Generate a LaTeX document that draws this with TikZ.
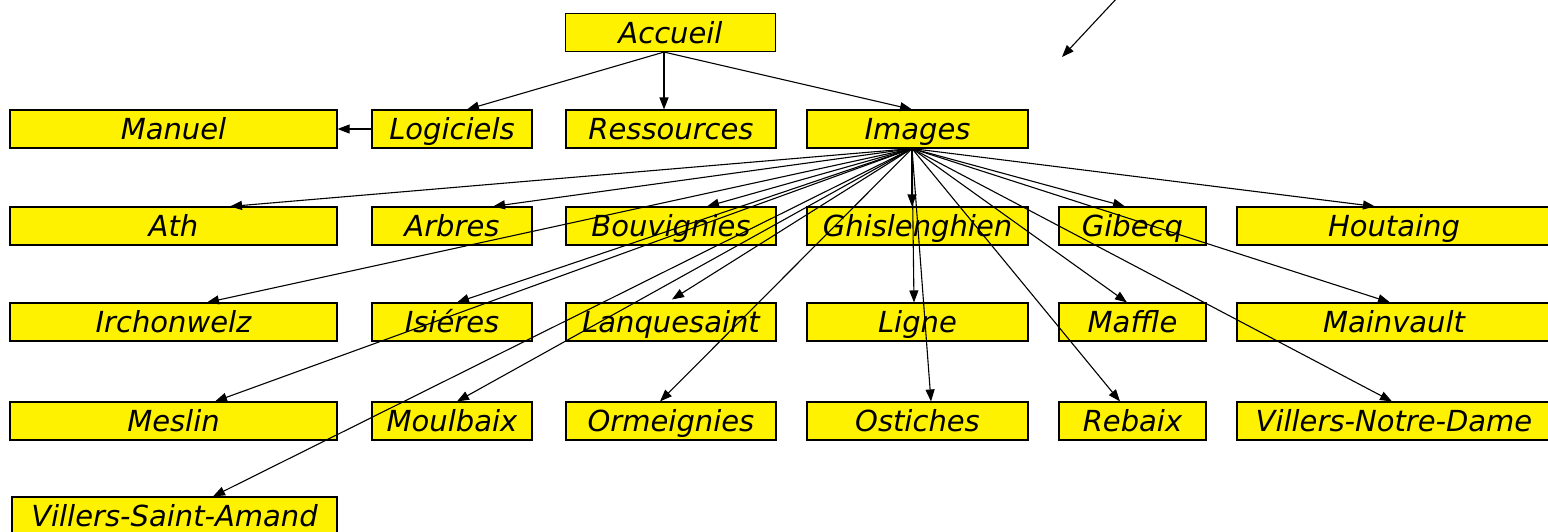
\documentclass[tikz,border=0pt]{standalone}
\usepackage{fontspec}
\setmainfont{DejaVu Sans}
\usepackage{tikz}
\usetikzlibrary{arrows.meta}

\begin{document}
\begin{tikzpicture}[x=1pt,y=-1pt,
  place/.style={rectangle,draw=black,line width=1.1pt,fill=yellow,inner sep=0pt,
    minimum height=38pt,text height=21pt,text depth=0pt,
    font=\fontsize{29}{30}\selectfont\itshape},
  colA/.style={place,minimum width=327pt},
  colB/.style={place,minimum width=160pt},
  colC/.style={place,minimum width=210pt},
  colD/.style={place,minimum width=221pt},
  colE/.style={place,minimum width=147pt},
  colF/.style={place,minimum width=314pt},
  link/.style={draw=black,line width=1.1pt,-{Triangle[length=12pt,width=9pt]}}]
\useasboundingbox (0,0) rectangle (1548,531);
\node at (670.5,32.5) [colC] (Accueil) {Accueil};
\node at (173.5,129) [colA] (Manuel) {Manuel};
\node at (452,129) [colB] (Logiciels) {Logiciels};
\node at (671,129) [colC] (Ressources) {Ressources};
\node at (917.5,129) [colD] (Images) {Images};
% Row 2
\node at (173.5,226) [colA] (Ath) {Ath};
\node at (452,226) [colB] (Arbres) {Arbres};
\node at (671,226) [colC] (Bouvignies) {Bouvignies};
\node at (917.5,226) [colD] (Ghislenghien) {Ghislenghien};
\node at (1132.5,226) [colE] (Gibecq) {Gibecq};
\node at (1394,226) [colF] (Houtaing) {Houtaing};
% Row 3
\node at (173.5,322) [colA] (Irchonwelz) {Irchonwelz};
\node at (452,322) [colB] (Isieres) {Isiéres};
\node at (671,322) [colC] (Lanquesaint) {Lanquesaint};
\node at (917.5,322) [colD] (Ligne) {Ligne};
\node at (1132.5,322) [colE] (Maffle) {Maffle};
\node at (1394,322) [colF] (Mainvault) {Mainvault};
% Row 4
\node at (173.5,421) [colA] (Meslin) {Meslin};
\node at (452,421) [colB] (Moulbaix) {Moulbaix};
\node at (671,421) [colC] (Ormeignies) {Ormeignies};
\node at (917.5,421) [colD] (Ostiches) {Ostiches};
\node at (1132.5,421) [colE] (Rebaix) {Rebaix};
\node at (1394,421) [colF] (VillersNotreDame) {Villers-Notre-Dame};
% Row 5
\node at (174.5,516) [colA,minimum width=325pt] (VillersSaintAmand) {Villers-Saint-Amand};
% Node Connections
\draw [link] ([xshift=-6.5pt]Accueil.south) -- ([xshift=15pt]Logiciels.north);
\draw [link] ([xshift=-6.5pt]Accueil.south) -- ([xshift=-7pt]Ressources.north);
\draw [link] ([xshift=-6.5pt]Accueil.south) -- ([xshift=-5.5pt]Images.north);
\draw [link] (Logiciels) -- (Manuel);
\draw [link] ([xshift=-5.5pt]Images.south) -- ([xshift=56.5pt]Ath.north);
\draw [link] ([xshift=-5.5pt]Images.south) -- ([xshift=41pt]Arbres.north);
\draw [link] ([xshift=-5.5pt]Images.south) -- ([xshift=36pt]Bouvignies.north);
\draw [link] ([xshift=-5.5pt]Images.south) -- ([xshift=-5.5pt]Ghislenghien.north);
\draw [link] ([xshift=-5.5pt]Images.south) -- ([xshift=-7.5pt]Gibecq.north);
\draw [link] ([xshift=-5.5pt]Images.south) -- ([xshift=-19pt]Houtaing.north);
\draw [link] ([xshift=-5.5pt]Images.south) -- ([xshift=33.5pt]Irchonwelz.north);
\draw [link] ([xshift=-5.5pt]Images.south) -- ([xshift=5pt]Isieres.north);
\draw [link] ([xshift=-5.5pt]Images.south) -- ([xshift=1pt,yshift=3pt]Lanquesaint.north);
\draw [link] ([xshift=-5.5pt]Images.south) -- ([xshift=-3.5pt]Ligne.north);
\draw [link] ([xshift=-5.5pt]Images.south) -- ([xshift=-5.5pt]Maffle.north);
\draw [link] ([xshift=-5.5pt]Images.south) -- ([xshift=-4pt]Mainvault.north);
\draw [link] ([xshift=-5.5pt]Images.south) -- ([xshift=41.5pt]Meslin.north);
\draw [link] ([xshift=-5.5pt]Images.south) -- ([xshift=5pt]Moulbaix.north);
\draw [link] ([xshift=-5.5pt]Images.south) -- ([xshift=-11pt]Ormeignies.north);
\draw [link] ([xshift=-5.5pt]Images.south) -- ([xshift=13.5pt]Ostiches.north);
\draw [link] ([xshift=-5.5pt]Images.south) -- ([xshift=-12.5pt]Rebaix.north);
\draw [link] ([xshift=-5.5pt]Images.south) -- ([xshift=-2pt]VillersNotreDame.north);
\draw [link] ([xshift=-5.5pt]Images.south) -- ([xshift=38.5pt]VillersSaintAmand.north);
% Free arrow
\coordinate (ArrowStart) at (1118,-3);
\coordinate (ArrowEnd) at (1062,57);
\draw [link] (ArrowStart) -- (ArrowEnd);
\end{tikzpicture}
\end{document}
